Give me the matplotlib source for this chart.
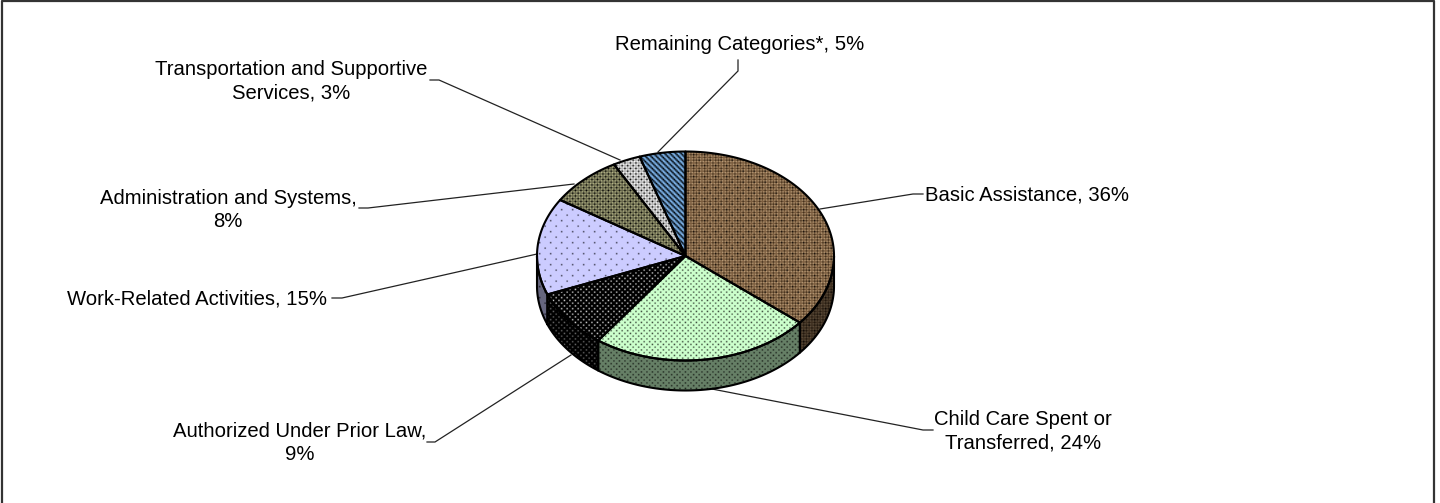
import numpy as np
import matplotlib
matplotlib.use("Agg")
import matplotlib.pyplot as plt
from matplotlib.patches import Polygon

plt.rcParams["font.family"] = ["Liberation Sans", "DejaVu Sans"]

names = [
    "Basic Assistance",
    "Child Care Spent or\nTransferred",
    "Authorized Under Prior Law,\n",
    "Work-Related Activities",
    "Administration and Systems,\n",
    "Transportation and Supportive\nServices",
    "Remaining Categories*",
]
shares = [36, 24, 9, 15, 8, 3, 5]

W, H = 1440, 503
CX, CY, RX, RY, DEPTH = 685.5, 256, 148.5, 104.5, 30
SCALE = 11 / 8  # fill patterns are 8x8 cells, drawn slightly enlarged


def rgb(code):
    return np.array(matplotlib.colors.to_rgb(code))


def stipple(base, dots, dot_cells, fine=None, fine_cells=()):
    cell = np.tile(rgb(base), (8, 8, 1))
    if fine:
        for r, c in fine_cells:
            cell[r, c] = rgb(fine)
    for r, c in dot_cells:
        cell[r, c] = rgb(dots)
    return cell


grid4 = [(r, c) for r in range(0, 8, 2) for c in range((r // 2 % 2) * 2, 8, 4)]
odd2 = [(r, c) for r in range(1, 8, 2) for c in range(1, 8, 2)]
sparse = [(0, 0), (4, 4)]

stripes = np.zeros((8, 8, 3))
stripe_cols = ["#000000", "#6699cc", "#88bbee", "#335577"]
for r in range(8):
    for c in range(8):
        stripes[r, c] = rgb(stripe_cols[(c - r) % 4])

brown = stipple("#785a3c", "#000000", sparse, "#bca07c", odd2)
brown[0, 2] = brown[0, 6] = brown[2, 0] = brown[2, 4] = rgb("#3a2a18")
brown[4, 0] = brown[4, 2] = brown[6, 2] = brown[6, 6] = rgb("#3a2a18")

patterns = [
    brown,
    stipple("#ccffcc", "#334033", grid4),
    stipple("#000000", "#d8d8d8", grid4),
    stipple("#ccccff", "#333344", sparse),
    stipple("#66664a", "#000000", grid4, "#b8b88c", odd2),
    stipple("#b4b4b4", "#000000", grid4, "#ffffff", odd2),
    stripes,
]


def ring(a, b, n=120):
    t = np.radians(np.linspace(a, b, n))
    return CX + RX * np.sin(t), CY - RY * np.cos(t)


def fill(points, cell, lw=1.5):
    outline = Polygon(points, closed=True, facecolor="none", edgecolor="black",
                      linewidth=lw, joinstyle="round", zorder=3)
    ax.add_patch(outline)
    rows, cols = int(H / SCALE) // 8 + 1, int(W / SCALE) // 8 + 1
    tex = np.tile(cell, (rows, cols, 1))
    im = ax.imshow(tex, extent=(0, tex.shape[1] * SCALE, tex.shape[0] * SCALE, 0),
                   interpolation="bilinear", aspect="auto", zorder=2)
    im.set_clip_path(outline)


fig = plt.figure(figsize=(W / 100, H / 100), dpi=100)
ax = fig.add_axes([0, 0, 1, 1])

edges = np.cumsum([0] + shares) * 3.6

# side wall, only the front half of the disc shows it
for i, cell in enumerate(patterns):
    a, b = max(edges[i], 90), min(edges[i + 1], 270)
    if a >= b:
        continue
    x, y = ring(a, b)
    pts = np.r_[np.c_[x, y], np.c_[x, y + DEPTH][::-1]]
    fill(pts, cell * 0.5)

# top face
for i, cell in enumerate(patterns):
    x, y = ring(edges[i], edges[i + 1])
    pts = np.r_[[[CX, CY]], np.c_[x, y]]
    fill(pts, cell)

# leader lines
leaders = [
    [(820, 209), (913, 194), (923, 194)],
    [(712, 389), (923, 430), (933, 430)],
    [(571, 355), (435, 442), (427, 442)],
    [(537, 254), (342, 298), (332, 298)],
    [(574, 184), (368, 208), (359, 208)],
    [(620, 160), (439, 80), (430, 80)],
    [(658, 152), (738, 71), (738, 60)],
]
for line in leaders:
    ax.plot(*zip(*line), color="#222222", lw=0.9, zorder=1, solid_joinstyle="miter")

label_pos = [
    (1027, 195),
    (1023, 431),
    (300, 443),
    (197, 299),
    (228, 210),
    (291, 81),
    (740, 44),
]
for name, share, (lx, ly) in zip(names, shares, label_pos):
    if name.endswith(",\n"):
        text = f"{name}{share}%"
    else:
        text = f"{name}, {share}%"
    ax.text(lx, ly, text, ha="center", va="center", fontsize=14.6, color="black",
            linespacing=1.33, zorder=5)

# chart frame runs off the bottom edge
ax.plot([1.5, 1.5, 1434, 1434], [H, 1, 1, H], color="#333333", lw=1.6, zorder=6)

ax.set_xlim(0, W)
ax.set_ylim(H, 0)
ax.axis("off")
fig.savefig("out.png", dpi=100, facecolor="white")
